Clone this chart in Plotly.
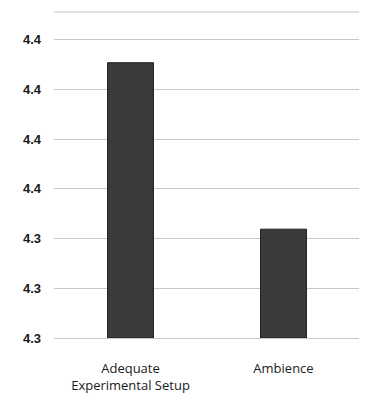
import plotly.graph_objects as go

categories = ["Adequate<br>Experimental Setup", "Ambience"]
values = [4.3754, 4.3419]
baseline = 4.32
tick_values = [4.32, 4.33, 4.34, 4.35, 4.36, 4.37, 4.38]
tick_labels = ["4.3", "4.3", "4.3", "4.4", "4.4", "4.4", "4.4"]

fig = go.Figure(go.Bar(
    x=categories, y=[v - baseline for v in values], base=[baseline] * len(values),
    width=0.3,
    marker=dict(color="#3b3b3b", line=dict(color="#1e1e1e", width=1)),
    hoverinfo="skip",
))

fig.update_layout(
    width=367, height=404,
    margin=dict(l=46, r=15, t=4, b=74),
    paper_bgcolor="white", plot_bgcolor="white",
    showlegend=False,
    font=dict(family="Open Sans, sans-serif", color="#222"),
    shapes=[dict(type="line", xref="paper", yref="paper", x0=0, x1=1, y0=1, y1=1,
                 line=dict(color="#c4c4c4", width=1))],
)
fig.update_yaxes(
    range=[4.32, 4.3856], tickvals=tick_values, ticktext=tick_labels,
    showgrid=True, gridcolor="#c8c8c8", gridwidth=1, zeroline=False,
    tickfont=dict(family="Liberation Sans, Arial, sans-serif", size=13, color="#1a1a1a", weight="bold"),
    ticks="", showline=False, ticklabelstandoff=12,
)
fig.update_xaxes(
    tickfont=dict(family="Open Sans, sans-serif", size=13, color="#1a1a1a"),
    showline=True, linecolor="#c8c8c8", ticks="", ticklabelstandoff=18,
)

fig.write_html("out.html")
